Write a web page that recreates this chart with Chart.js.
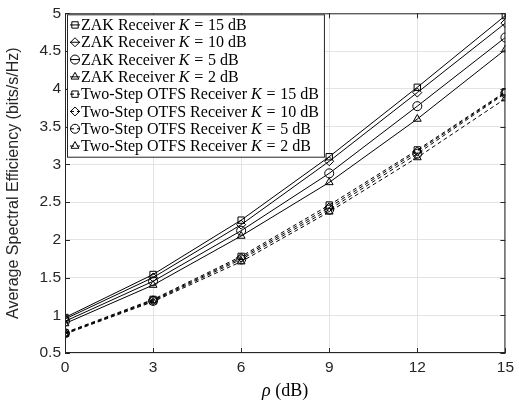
<!DOCTYPE html>
<html>
<head>
<meta charset="utf-8">
<script src="https://cdn.jsdelivr.net/npm/chart.js@4.4.1/dist/chart.umd.min.js"></script>
<style>
    html, body { margin: 0; padding: 0; background: #fff; }
    #wrap { width: 519px; height: 404px; }
</style>
</head>
<body>
<div id="wrap"><canvas id="seChart" width="519" height="404"></canvas></div>
<script>
// --- Data ---
const rho = [0, 3, 6, 9, 12, 15];
const xTicks = [0, 3, 6, 9, 12, 15];
const yTicks = [0.5, 1, 1.5, 2, 2.5, 3, 3.5, 4, 4.5, 5];

const zak15 = [0.97, 1.54, 2.26, 3.10, 4.02, 4.97];
const zak10 = [0.95, 1.50, 2.20, 3.04, 3.95, 4.87];
const zak5 = [0.92, 1.45, 2.12, 2.88, 3.77, 4.68];
const zak2 = [0.89, 1.40, 2.05, 2.76, 3.60, 4.52];
const otfs15 = [0.77, 1.21, 1.78, 2.46, 3.19, 3.96];
const otfs10 = [0.76, 1.20, 1.76, 2.43, 3.17, 3.95];
const otfs5 = [0.76, 1.19, 1.74, 2.40, 3.14, 3.94];
const otfs2 = [0.75, 1.18, 1.71, 2.37, 3.09, 3.87];

const labels = [
    'ZAK Receiver K = 15 dB',
    'ZAK Receiver K = 10 dB',
    'ZAK Receiver K = 5 dB',
    'ZAK Receiver K = 2 dB',
    'Two-Step OTFS Receiver K = 15 dB',
    'Two-Step OTFS Receiver K = 10 dB',
    'Two-Step OTFS Receiver K = 5 dB',
    'Two-Step OTFS Receiver K = 2 dB'
];
const xTitle = 'ρ (dB)';
const yTitle = 'Average Spectral Efficiency (bits/s/Hz)';

const seriesList = [zak15, zak10, zak5, zak2, otfs15, otfs10, otfs5, otfs2];
const markers = ['rect', 'rectRot', 'circle', 'triangle', 'rect', 'rectRot', 'circle', 'triangle'];

const INK = '#000';
const AXIS = '#262626';
const GRID = '#e3e3e3';
const SERIF = '"Liberation Serif", "DejaVu Serif", serif';
const SANS = '"Liberation Sans", Arial, sans-serif';

const datasets = seriesList.map((vals, i) => ({
    label: labels[i],
    data: vals.map((v, j) => ({ x: rho[j], y: v })),
    borderColor: INK,
    borderWidth: 1,
    borderDash: i < 4 ? [] : [4, 3],
    pointStyle: markers[i],
    pointRadius: 4.5,
    pointBorderWidth: 1,
    pointBackgroundColor: 'rgba(255,255,255,0)',
    pointBorderColor: INK,
    tension: 0,
    fill: false
}));

// text with the math symbols (K before '=', rho) in italic, extra room around '='
function mixedParts(text) {
    return text.split(/(K(?= = )|ρ| = )/).filter(p => p);
}

function drawMixed(ctx, x, y, text, size, doDraw) {
    mixedParts(text).forEach(p => {
        const italic = (p === 'K' || p === 'ρ');
        ctx.font = (italic ? 'italic ' : '') + size + 'px ' + SERIF;
        if (p === ' = ') {
            x += size * 0.3;
            if (doDraw) ctx.fillText('=', x, y);
            x += ctx.measureText('=').width + size * 0.3;
            return;
        }
        if (doDraw) ctx.fillText(p, x, y);
        x += ctx.measureText(p).width;
    });
    return x;
}

// --- Frame, inward ticks, legend box, x title ---
const decorPlugin = {
    id: 'decor',
    afterDraw(chart) {
        const ctx = chart.ctx;
        const a = chart.chartArea;
        const xs = chart.scales.x, ys = chart.scales.y;
        ctx.save();

        // axes box
        ctx.strokeStyle = AXIS;
        ctx.lineWidth = 1;
        ctx.strokeRect(a.left + 0.5, a.top + 0.5, a.right - a.left - 1, a.bottom - a.top - 1);

        // inward tick marks
        ctx.beginPath();
        xTicks.forEach(t => {
            const px = Math.round(xs.getPixelForValue(t)) + 0.5;
            ctx.moveTo(px, a.bottom); ctx.lineTo(px, a.bottom - 5);
            ctx.moveTo(px, a.top); ctx.lineTo(px, a.top + 5);
        });
        yTicks.forEach(t => {
            const py = Math.round(ys.getPixelForValue(t)) + 0.5;
            ctx.moveTo(a.left, py); ctx.lineTo(a.left + 5, py);
            ctx.moveTo(a.right, py); ctx.lineTo(a.right - 5, py);
        });
        ctx.stroke();

        // legend
        const fs = 16;
        const rowH = 17.3;
        let maxW = 0;
        labels.forEach(l => { maxW = Math.max(maxW, drawMixed(ctx, 0, 0, l, fs, false)); });
        const bx = a.left + 2, by = a.top + 1;
        const bw = maxW + 19, bh = rowH * labels.length + 4;
        ctx.fillStyle = '#fff';
        ctx.fillRect(bx, by, bw, bh);
        ctx.strokeStyle = AXIS;
        ctx.strokeRect(bx + 0.5, by + 0.5, bw, bh);

        ctx.textBaseline = 'middle';
        labels.forEach((l, i) => {
            const cy = by + 2 + rowH * (i + 0.5);
            const ds = chart.data.datasets[i];
            ctx.strokeStyle = INK;
            ctx.lineWidth = 1;
            ctx.setLineDash(ds.borderDash);
            ctx.beginPath();
            ctx.moveTo(bx + 3, cy); ctx.lineTo(bx + 13, cy);
            ctx.stroke();
            ctx.setLineDash([]);
            ctx.fillStyle = 'rgba(255,255,255,0)';
            Chart.helpers.drawPoint(ctx, { pointStyle: ds.pointStyle, radius: 4.5, borderWidth: 1 }, bx + 8, cy);
            ctx.fillStyle = INK;
            drawMixed(ctx, bx + 14, cy + 1, l, fs, true);
        });

        // x axis title
        const tw = drawMixed(ctx, 0, 0, xTitle, 18, false);
        ctx.fillStyle = INK;
        ctx.textBaseline = 'alphabetic';
        drawMixed(ctx, (a.left + a.right) / 2 - tw / 2, 396, xTitle, 18, true);
        ctx.restore();
    }
};

const ctx = document.getElementById('seChart').getContext('2d');
new Chart(ctx, {
    type: 'line',
    data: { datasets },
    options: {
        responsive: false,
        animation: false,
        layout: { padding: { top: 10, right: 7, left: 0, bottom: 0 } },
        plugins: { legend: { display: false }, tooltip: { enabled: false } },
        scales: {
            x: {
                type: 'linear',
                min: 0, max: 15,
                afterFit: s => { s.height = 51; },
                afterBuildTicks: s => { s.ticks = xTicks.map(v => ({ value: v })); },
                grid: { color: GRID, drawTicks: false },
                border: { display: false },
                ticks: {
                    color: AXIS,
                    padding: 5,
                    maxRotation: 0,
                    font: { family: SANS, size: 15.5 },
                    callback: v => String(v)
                }
            },
            y: {
                type: 'linear',
                min: 0.5, max: 5,
                afterFit: s => { s.width = 65; },
                afterBuildTicks: s => { s.ticks = yTicks.map(v => ({ value: v })); },
                grid: { color: GRID, drawTicks: false },
                border: { display: false },
                title: {
                    display: true,
                    text: yTitle,
                    color: AXIS,
                    font: { family: SANS, size: 16 },
                    padding: { top: 4, bottom: 4 }
                },
                ticks: {
                    color: AXIS,
                    padding: 4,
                    font: { family: SANS, size: 15.5 },
                    callback: v => String(v)
                }
            }
        }
    },
    plugins: [decorPlugin]
});
</script>
</body>
</html>
